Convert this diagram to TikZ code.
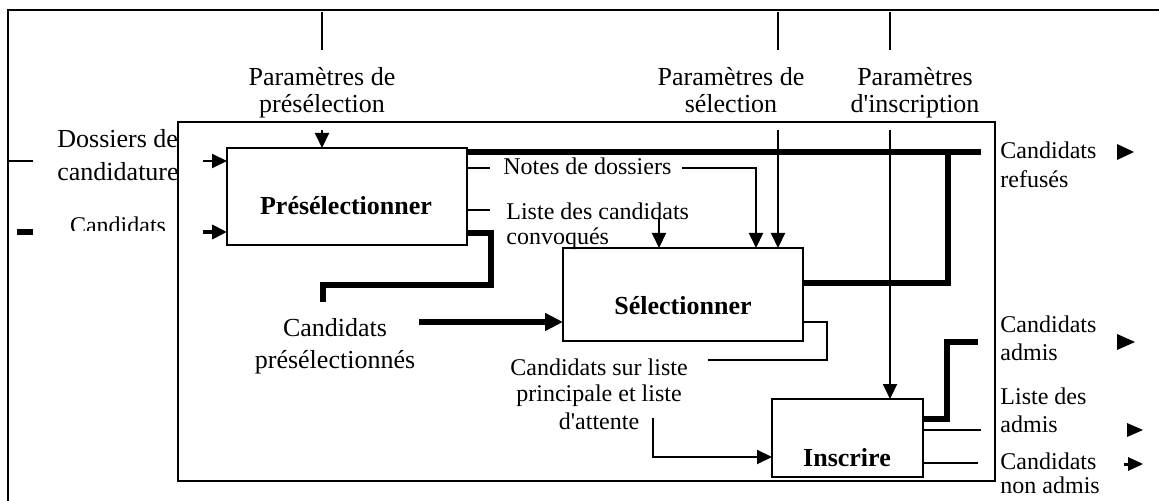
\documentclass[tikz,border=0pt]{standalone}
\usepackage{fontspec}
\setmainfont{Liberation Serif}
\usetikzlibrary{arrows.meta}
\begin{document}
\begin{tikzpicture}[x=0.5pt,y=-0.5pt,
  lnthin/.style={line width=1pt},
  lnthick/.style={line width=2.75pt, line join=miter},
  proc/.style={draw, line width=1pt, inner sep=0pt, outer sep=0pt, anchor=north west},
  big/.style={font=\fontsize{13}{13.5}\selectfont, inner sep=0pt, anchor=base},
  small/.style={font=\fontsize{12}{13}\selectfont, inner sep=0pt, anchor=base},
  boxlabel/.style={font=\bfseries\fontsize{13}{15}\selectfont, inner sep=0pt, anchor=base},
  arr/.style={lnthin, -{Triangle[length=7.5pt,width=7pt]}},
  tarr/.style={line width=2.75pt, -{Triangle[length=9pt,width=8.5pt]}},
  marr/.style={line width=2pt, -{Triangle[length=7.5pt,width=7pt]}},
  head/.style={fill=black}]
\useasboundingbox (0,0) rectangle (1159,501);

% outer frame (open to the right and bottom)
\draw[lnthin] (8,501) -- (8,10) -- (1159,10);

% texts (multi-line nodes: base = baseline of last line)
\node[big, align=center] (pPre) at (322,113) {Paramètres de\\présélection};
\node[big, align=center] (pSel) at (731,113) {Paramètres de\\sélection};
\node[big, align=center] (pIns) at (915,113) {Paramètres\\d\textquotesingle inscription};
\node[big, align=left, anchor=base west, font=\fontsize{13}{16.5}\selectfont] (dos) at (57,181) {Dossiers de\\candidature};
\begin{scope}
  \clip (40,200) rectangle (178,231);
  \node[small] (canL) at (118,234) {Candidats};
\end{scope}
\node[small, anchor=base west] (notes) at (503,175) {Notes de dossiers};
\node[small, align=left, anchor=base west, font=\fontsize{12}{12.5}\selectfont] (conv) at (506,245) {Liste des candidats\\convoqués};
\node[big, align=center, font=\fontsize{13}{15.5}\selectfont] (cpre) at (335,368) {Candidats\\présélectionnés};
\node[small, align=center, font=\fontsize{12}{13.5}\selectfont] (att) at (599,429) {Candidats sur liste\\principale et liste\\d\textquotesingle attente};
\node[small, align=left, anchor=base west, font=\fontsize{12}{14.5}\selectfont] (ref) at (1000,188) {Candidats\\refusés};
\node[small, align=left, anchor=base west, font=\fontsize{12}{14}\selectfont] (adm) at (1000,361) {Candidats\\admis};
\node[small, align=left, anchor=base west, font=\fontsize{12}{14}\selectfont] (lad) at (1000,432) {Liste des\\admis};
\node[small, align=left, anchor=base west, font=\fontsize{12}{12}\selectfont] (nad) at (1000,493) {Candidats\\non admis};

% frame and activity boxes
\node[proc, minimum width=408.5pt, minimum height=179.5pt] (frame) at (178,122) {};
\node[proc, minimum width=120pt, minimum height=48.5pt] (pre) at (227,148) {};
\node[proc, minimum width=120pt, minimum height=46.5pt] (sel) at (563,248) {};
\node[proc, minimum width=75.5pt, minimum height=39pt] (ins) at (772,399) {};
\node[boxlabel] (preL) at (346,215) {Présélectionner};
\node[boxlabel] (selL) at (683,315) {Sélectionner};
\node[boxlabel] (insL) at (847,466) {Inscrire};

% top ticks
\draw[lnthin] (322,12) -- (322,50);
\draw[lnthin] (778,12) -- (778,50);
\draw[lnthin] (890,12) -- (890,50);

% controls
\coordinate (pp) at (322,130);
\draw[arr] (pp) -- (pp |- pre.north);
\coordinate (ps) at (778,130);
\draw[arr] (ps) -- (ps |- sel.north);
\coordinate (pi) at (890,130);
\draw[arr] (pi) -- (pi |- ins.north);

% inputs of Preselectionner
\draw[lnthin] (8,161) -- (33,161);
\coordinate (dosA) at (203,161);
\draw[arr] (dosA) -- (dosA -| pre.west);
\draw[lnthick] (17,232) -- (33,232);
\coordinate (canA) at (203,232);
\draw[marr] (canA) -- (canA -| pre.west);

% candidats refuses
\coordinate (refE) at (981,152);
\draw[lnthick] (pre.east |- refE) -- (refE);
\coordinate (selR) at (948,283);
\draw[lnthick] (selR -| sel.east) -- (selR) -- (selR |- refE);

% notes de dossiers
\coordinate (notesA) at (490,168);
\draw[lnthin] (notesA -| pre.east) -- (notesA);
\coordinate (notesB) at (682,168);
\coordinate (notesC) at (756,168);
\draw[arr] (notesB) -- (notesC) -- (notesC |- sel.north);

% liste des candidats convoques
\coordinate (lcA) at (490,210);
\draw[lnthin] (lcA -| pre.east) -- (lcA);
\coordinate (lcB) at (659,218);
\draw[arr] (lcB) -- (lcB |- sel.north);

% candidats preselectionnes
\coordinate (pa) at (491,233);
\coordinate (pb) at (491,285);
\coordinate (pc) at (323,285);
\coordinate (pd) at (323,302);
\draw[lnthick] (pa -| pre.east) -- (pa) -- (pb) -- (pc) -- (pd);
\coordinate (cpA) at (419,322);
\draw[tarr] (cpA) -- (cpA -| sel.west);

% selection output
\coordinate (sa) at (827,322);
\coordinate (sb) at (827,360);
\coordinate (sc) at (708,360);
\draw[lnthin] (sa -| sel.east) -- (sa) -- (sb) -- (sc);
\coordinate (atA) at (653,418);
\coordinate (atB) at (653,457);
\draw[arr] (atA) -- (atB) -- (atB -| ins.west);

% inscrire outputs
\coordinate (ia) at (947,419);
\coordinate (ib) at (947,342);
\coordinate (ic) at (978,342);
\draw[lnthick] (ia -| ins.east) -- (ia) -- (ib) -- (ic);
\coordinate (id) at (981,430);
\draw[lnthin] (id -| ins.east) -- (id);
\coordinate (ie) at (978,463);
\draw[lnthin] (ie -| ins.east) -- (ie);

% lone arrowheads at the right
\fill[head] (1117,144) -- (1134,152) -- (1117,160) -- cycle;
\fill[head] (1117,334) -- (1135,342) -- (1117,350) -- cycle;
\fill[head] (1127,423) -- (1143,430) -- (1127,437) -- cycle;
\fill[head] (1128,457) -- (1143,464) -- (1128,471) -- cycle;
\draw[line width=1.5pt] (1124,464) -- (1130,464);
\end{tikzpicture}
\end{document}
